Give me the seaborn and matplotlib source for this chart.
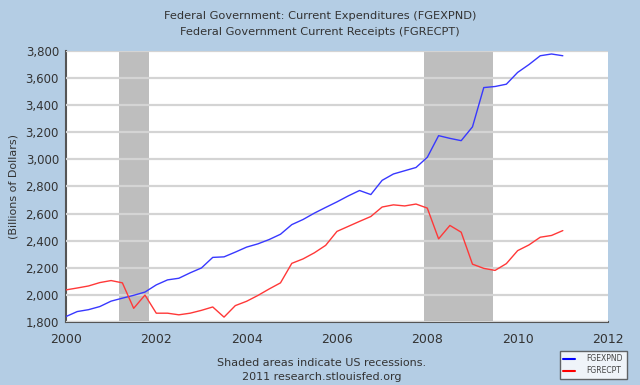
import numpy as np
import pandas as pd
import matplotlib
matplotlib.use("Agg")
import matplotlib.pyplot as plt
import seaborn as sns

# quarterly, 2000Q1 .. 2011Q1
quarters = [2000 + i / 4 for i in range(45)]
fgexpnd = [1839, 1876, 1890, 1913, 1953, 1975, 1996, 2020,
           2073, 2110, 2122, 2162, 2198, 2276, 2280, 2315,
           2352, 2376, 2408, 2447, 2518, 2556, 2603, 2645,
           2686, 2730, 2770, 2740, 2845, 2892, 2916, 2940,
           3015, 3175, 3155, 3138, 3240, 3530, 3538, 3555,
           3642, 3700, 3765, 3778, 3765]
fgrecpt = [2036, 2050, 2065, 2090, 2105, 2088, 1900, 1998,
           1864, 1864, 1852, 1864, 1885, 1910, 1835, 1920,
           1952, 1995, 2043, 2088, 2232, 2265, 2310, 2365,
           2468, 2505, 2542, 2578, 2648, 2664, 2656, 2670,
           2640, 2413, 2512, 2462, 2226, 2195, 2180, 2230,
           2326, 2368, 2425, 2438, 2474]
recessions = [(2001.17, 2001.83), (2007.92, 2009.45)]
x_ticks = [2000, 2002, 2004, 2006, 2008, 2010, 2012]
y_ticks = [1800, 2000, 2200, 2400, 2600, 2800, 3000, 3200, 3400, 3600, 3800]

df = pd.DataFrame({
    "date": quarters * 2,
    "value": fgexpnd + fgrecpt,
    "series": ["FGEXPND"] * len(quarters) + ["FGRECPT"] * len(quarters),
})

sns.set_style("white")
plt.rcParams["font.family"] = ["DejaVu Sans"]
txt = "#333333"
bg = "#b4cde4"

fig = plt.figure(figsize=(6.4, 3.85), dpi=100, facecolor=bg)
ax = fig.add_axes([0.103, 0.164, 0.847, 0.7035])
ax.set_facecolor("white")

for a, b in recessions:
    ax.axvspan(a, b, color="#bebebe", lw=0, zorder=1)

sns.lineplot(data=df, x="date", y="value", hue="series",
             palette={"FGEXPND": "#3838ff", "FGRECPT": "#ff3838"},
             linewidth=1, ax=ax, zorder=3, legend=False)

ax.set_xlim(2000, 2012)
ax.set_ylim(1800, 3800)
ax.set_xticks(x_ticks)
ax.set_yticks(y_ticks)
ax.set_xticklabels([str(t) for t in x_ticks])
ax.set_yticklabels([f"{t:,}" for t in y_ticks])
ax.grid(axis="y", color="#d4d4d4", lw=1.6, zorder=2)
ax.set_axisbelow(False)
for gl in ax.get_ygridlines():
    gl.set_zorder(2)
ax.tick_params(axis="x", direction="in", length=4, colors="#555555",
               labelcolor=txt, labelsize=9, pad=8)
ax.tick_params(axis="y", direction="out", length=3, colors="#555555",
               labelcolor=txt, labelsize=8.5, pad=2)
ax.set_xlabel("")
ax.set_ylabel("(Billions of Dollars)", color=txt, fontsize=8, labelpad=5)
for s in ["top", "right"]:
    ax.spines[s].set_visible(False)
for s in ["left", "bottom"]:
    ax.spines[s].set_color("#555555")
    ax.spines[s].set_linewidth(1.5)

fig.text(0.5, 0.958, "Federal Government: Current Expenditures (FGEXPND)",
         ha="center", va="center", fontsize=8.2, color=txt)
fig.text(0.5, 0.918, "Federal Government Current Receipts (FGRECPT)",
         ha="center", va="center", fontsize=8.2, color=txt)
fig.text(0.503, 0.058, "Shaded areas indicate US recessions.",
         ha="center", va="center", fontsize=8, color=txt)
fig.text(0.503, 0.022, "2011 research.stlouisfed.org",
         ha="center", va="center", fontsize=8, color=txt)

handles = [plt.Line2D([], [], color="#0000ff", lw=1.5),
           plt.Line2D([], [], color="#ff0000", lw=1.5)]
leg = fig.legend(handles, ["FGEXPND", "FGRECPT"], loc="lower right",
                 bbox_to_anchor=(0.985, 0.005), fontsize=5.5, frameon=True,
                 fancybox=False, handlelength=1.5, borderpad=0.5,
                 labelspacing=0.4, handletextpad=1.5)
leg.get_frame().set_edgecolor("#444444")
leg.get_frame().set_facecolor("white")
leg.get_frame().set_linewidth(1)
for t in leg.get_texts():
    t.set_color("#444444")

fig.savefig("out.png", dpi=100, facecolor=bg)
